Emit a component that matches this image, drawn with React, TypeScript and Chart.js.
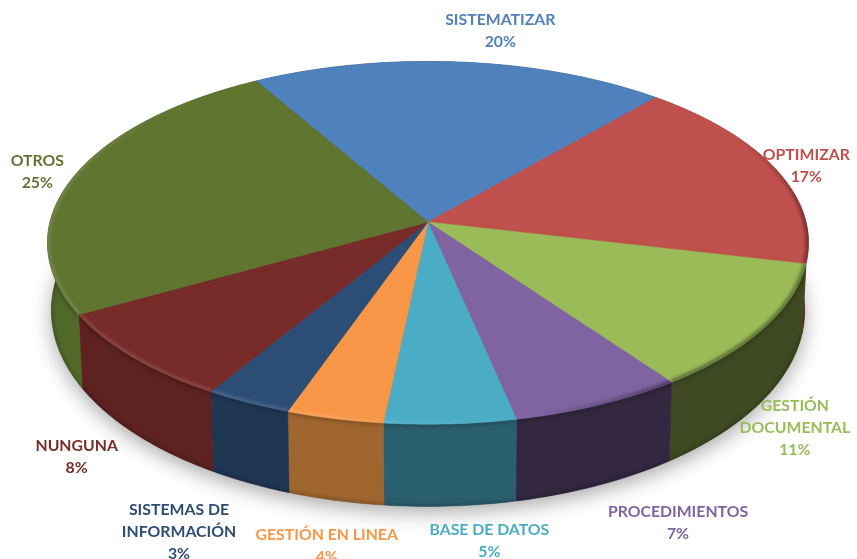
import React, { useEffect, useRef } from "react";
import { Chart, registerables } from "chart.js";

Chart.register(...registerables);

const categories = ["SISTEMATIZAR", "OPTIMIZAR", "GESTIÓN DOCUMENTAL", "PROCEDIMIENTOS", "BASE DE DATOS", "GESTIÓN EN LINEA", "SISTEMAS DE INFORMACIÓN", "NUNGUNA", "OTROS"];
const values = [19.7, 17.3, 11.4, 6.6, 5, 3.7, 3.3, 8.2, 24.8];
const faceColors = ["#4f81bd", "#c0504d", "#9bbb59", "#8064a2", "#4bacc6", "#f79646", "#2c4d75", "#772c2a", "#5f7530"];
const wallColors = ["#35567e", "#6e2b29", "#3f4a22", "#332840", "#2a5f6f", "#a0662f", "#203754", "#5e2220", "#52692a"];
const wrappedLabels: Record<string, string[]> = {
  "GESTIÓN DOCUMENTAL": ["GESTIÓN", "DOCUMENTAL"],
  "SISTEMAS DE INFORMACIÓN": ["SISTEMAS DE", "INFORMACIÓN"],
};
const labelNudges = [[40, -31], [31, -3], [31, 100], [79, 118], [39, 117], [-8, 127], [-69, 129], [-56, 100], [-37, -4]];

const CX = 428;
const CY = 222;
const RX = 378;
const RY = 179;
const PERSP = 0.115;
const DEG = Math.PI / 180;

// theta is clockwise from the top of the pie, in radians
function top(theta: number): [number, number] {
  const sx = Math.sin(theta);
  const cs = Math.cos(theta);
  const s = 1 / (1 + PERSP * cs);
  return [CX + RX * sx * s, CY - RY * cs * s];
}
function bottom(theta: number): [number, number] {
  const [x, y] = top(theta);
  return [CX + (x - CX) * 0.99, CY + 66 + (y - CY) * 1.08];
}
function arcThetas(a: number, b: number): number[] {
  const out: number[] = [];
  const n = Math.max(2, Math.ceil((b - a) / DEG));
  for (let i = 0; i <= n; i++) out.push(a + ((b - a) * i) / n);
  return out;
}

const pie3d = {
  id: "pie3d",
  beforeDatasetDraw(chart: any) {
    const ctx: CanvasRenderingContext2D = chart.ctx;
    const arcs = chart.getDatasetMeta(0).data.map((el: any) => ({
      a: el.startAngle + Math.PI / 2,
      b: el.endAngle + Math.PI / 2,
      color: el.options.backgroundColor,
    }));
    const full = arcThetas(0, Math.PI * 2);

    // soft ground shadow
    ctx.save();
    ctx.shadowColor = "rgba(0,0,0,0.34)";
    ctx.shadowBlur = 20;
    ctx.shadowOffsetY = 6;
    ctx.fillStyle = "#777";
    ctx.beginPath();
    full.forEach((t, i) => {
      const [x, y] = bottom(t);
      i ? ctx.lineTo(x, y) : ctx.moveTo(x, y);
    });
    ctx.closePath();
    ctx.fill();
    ctx.restore();

    // outer wall
    arcs.forEach((arc: any, i: number) => {
      const ts = arcThetas(arc.a, arc.b);
      ctx.beginPath();
      ts.forEach((t, k) => {
        const [x, y] = top(t);
        k ? ctx.lineTo(x, y) : ctx.moveTo(x, y);
      });
      ts.slice().reverse().forEach((t) => {
        const [x, y] = bottom(t);
        ctx.lineTo(x, y);
      });
      ctx.closePath();
      ctx.fillStyle = wallColors[i];
      ctx.fill();
      ctx.strokeStyle = wallColors[i];
      ctx.lineWidth = 0.5;
      ctx.stroke();
      // dark upper and lower edges of the wall
      ctx.save();
      ctx.clip();
      ctx.filter = "blur(2px)";
      ctx.strokeStyle = "rgba(0,0,0,0.28)";
      ctx.lineWidth = 3;
      ctx.beginPath();
      ts.forEach((t, k) => {
        const [x, y] = bottom(t);
        k ? ctx.lineTo(x, y) : ctx.moveTo(x, y);
      });
      ctx.stroke();
      ctx.strokeStyle = "rgba(0,0,0,0.22)";
      ctx.lineWidth = 5;
      ctx.beginPath();
      ts.forEach((t, k) => {
        const [x, y] = top(t);
        k ? ctx.lineTo(x, y) : ctx.moveTo(x, y);
      });
      ctx.stroke();
      ctx.restore();
    });

    // top face with its bevel
    arcs.forEach((arc: any) => {
      const ts = arcThetas(arc.a, arc.b);
      ctx.beginPath();
      ctx.moveTo(CX, CY);
      ts.forEach((t) => {
        const [x, y] = top(t);
        ctx.lineTo(x, y);
      });
      ctx.closePath();
      ctx.fillStyle = arc.color;
      ctx.fill();
      ctx.strokeStyle = arc.color;
      ctx.lineWidth = 0.5;
      ctx.stroke();

      ctx.save();
      ctx.clip();
      ctx.filter = "blur(1.6px)";
      ctx.lineWidth = 6;
      ctx.lineCap = "butt";
      for (let k = 0; k < ts.length - 1; k++) {
        const mid = (((ts[k] + ts[k + 1]) / 2) / DEG + 360) % 360;
        let style = "";
        if (mid > 165 && mid < 320) {
          const w = Math.min(1, (mid - 165) / 30) * Math.min(1, (320 - mid) / 40);
          style = `rgba(255,255,255,${(0.13 * w).toFixed(3)})`;
        } else if (mid > 60 && mid <= 165) {
          const w = Math.min(1, (mid - 60) / 30) * Math.min(1, (165 - mid) / 20);
          style = `rgba(0,0,0,${(0.38 * w).toFixed(3)})`;
        }
        if (!style) continue;
        const [x0, y0] = top(ts[k]);
        const [x1, y1] = top(ts[k + 1]);
        ctx.strokeStyle = style;
        ctx.beginPath();
        ctx.moveTo(x0, y0);
        ctx.lineTo(x1, y1);
        ctx.stroke();
      }
      ctx.restore();
    });

    // labels
    ctx.save();
    ctx.font = "700 15.8px Lato, 'Open Sans', sans-serif";
    ctx.textAlign = "center";
    ctx.textBaseline = "middle";
    arcs.forEach((arc: any, i: number) => {
      const [x, y] = top((arc.a + arc.b) / 2);
      const lines = [...(wrappedLabels[categories[i]] || [categories[i]]), `${Math.round(values[i])}%`];
      const bx = x + labelNudges[i][0];
      const by = y + labelNudges[i][1];
      ctx.fillStyle = arc.color;
      lines.forEach((line, k) => {
        ctx.fillText(line, bx, by + (k - (lines.length - 1) / 2) * 22);
      });
    });
    ctx.restore();
    return false;
  },
};

export default function App() {
  const ref = useRef<HTMLCanvasElement>(null);
  useEffect(() => {
    if (!ref.current) return;
    const chart = new Chart(ref.current, {
      type: "pie",
      data: {
        labels: categories,
        datasets: [{ data: values, backgroundColor: faceColors, borderWidth: 0 }],
      },
      options: {
        responsive: false,
        animation: false,
        rotation: -30,
        events: [],
        plugins: { legend: { display: false }, title: { display: false }, tooltip: { enabled: false } },
      },
      plugins: [pie3d],
    } as any);
    return () => chart.destroy();
  }, []);
  return (
    <canvas
      ref={ref}
      width={857}
      height={559}
      style={{ position: "absolute", left: 0, top: 0, width: 857, height: 559, display: "block", background: "#fff" }}
    />
  );
}
